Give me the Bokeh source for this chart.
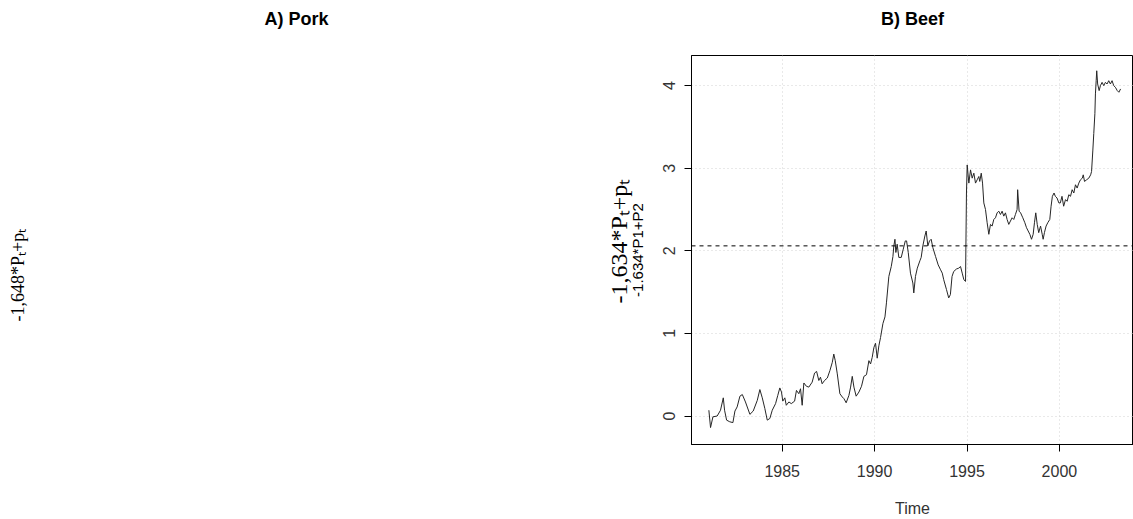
from bokeh.embed import file_html
from bokeh.layouts import row
from bokeh.models import FixedTicker, Range1d, Span, Title
from bokeh.plotting import figure
from bokeh.resources import INLINE

# Monthly beef series (decimal year, value)
time = [
    1981.03, 1981.12, 1981.25, 1981.48, 1981.66, 1981.81, 1981.88, 1981.99,
    1982.16, 1982.33, 1982.44, 1982.56, 1982.71, 1982.84, 1983.01, 1983.25,
    1983.43, 1983.65, 1983.79, 1983.92, 1984.06, 1984.19, 1984.33, 1984.46,
    1984.64, 1984.76, 1984.87, 1984.96, 1985.03, 1985.14, 1985.22, 1985.36,
    1985.49, 1985.67, 1985.77, 1985.90, 1985.99, 1986.08, 1986.17, 1986.31,
    1986.44, 1986.62, 1986.75, 1986.86, 1986.98, 1987.07, 1987.16, 1987.29,
    1987.44, 1987.58, 1987.71, 1987.79, 1987.87, 1987.98, 1988.12, 1988.25,
    1988.34, 1988.46, 1988.61, 1988.70, 1988.79, 1988.88, 1989.00, 1989.15,
    1989.29, 1989.42, 1989.56, 1989.69, 1989.78, 1989.87, 1989.96, 1990.05,
    1990.14, 1990.23, 1990.32, 1990.45, 1990.56, 1990.64, 1990.77, 1990.90,
    1990.99, 1991.04, 1991.10, 1991.15, 1991.22, 1991.31, 1991.44, 1991.55,
    1991.66, 1991.73, 1991.82, 1991.94, 1992.07, 1992.12, 1992.21, 1992.31,
    1992.45, 1992.52, 1992.61, 1992.72, 1992.79, 1992.88, 1992.97, 1993.06,
    1993.15, 1993.30, 1993.44, 1993.57, 1993.66, 1993.74, 1993.89, 1994.01,
    1994.10, 1994.19, 1994.28, 1994.43, 1994.55, 1994.65, 1994.74, 1994.83,
    1994.92, 1994.97, 1995.01, 1995.10, 1995.19, 1995.28, 1995.37, 1995.46,
    1995.55, 1995.64, 1995.69, 1995.77, 1995.84, 1995.91, 1996.00, 1996.09,
    1996.18, 1996.27, 1996.36, 1996.45, 1996.54, 1996.63, 1996.72, 1996.81,
    1996.90, 1996.99, 1997.08, 1997.17, 1997.26, 1997.35, 1997.44, 1997.53,
    1997.62, 1997.71, 1997.74, 1997.82, 1997.90, 1998.02, 1998.13, 1998.22,
    1998.31, 1998.40, 1998.49, 1998.58, 1998.65, 1998.72, 1998.80, 1998.88,
    1998.98, 1999.07, 1999.12, 1999.19, 1999.28, 1999.37, 1999.48, 1999.55,
    1999.62, 1999.71, 1999.78, 1999.87, 1999.97, 2000.05, 2000.14, 2000.23,
    2000.33, 2000.42, 2000.51, 2000.60, 2000.69, 2000.78, 2000.87, 2000.96,
    2001.05, 2001.14, 2001.24, 2001.29, 2001.36, 2001.47, 2001.59, 2001.69,
    2001.74, 2001.81, 2001.86, 2001.92, 2001.95, 2001.99, 2002.02, 2002.07,
    2002.15, 2002.22, 2002.31, 2002.40, 2002.49, 2002.58, 2002.67, 2002.76,
    2002.85, 2002.94, 2003.03, 2003.13, 2003.22, 2003.31,
]
beef = [
    0.07, -0.14, -0.01, 0.00, 0.07, 0.22, 0.07, -0.05,
    -0.07, -0.08, 0.06, 0.11, 0.24, 0.26, 0.17, 0.02,
    0.06, 0.19, 0.32, 0.22, 0.09, -0.05, -0.03, 0.07,
    0.15, 0.25, 0.34, 0.29, 0.18, 0.22, 0.13, 0.17,
    0.15, 0.18, 0.31, 0.27, 0.33, 0.13, 0.40, 0.36,
    0.35, 0.41, 0.52, 0.54, 0.43, 0.47, 0.39, 0.43,
    0.46, 0.55, 0.65, 0.75, 0.67, 0.51, 0.27, 0.23,
    0.21, 0.16, 0.25, 0.35, 0.48, 0.35, 0.24, 0.29,
    0.36, 0.48, 0.50, 0.67, 0.63, 0.71, 0.83, 0.88,
    0.70, 0.85, 0.95, 1.12, 1.20, 1.37, 1.69, 1.81,
    1.93, 2.06, 2.14, 1.98, 2.08, 1.92, 1.92, 2.02,
    2.12, 2.12, 1.98, 1.73, 1.61, 1.49, 1.69, 1.79,
    1.88, 1.92, 2.06, 2.18, 2.24, 2.06, 2.12, 2.14,
    2.04, 1.93, 1.83, 1.77, 1.73, 1.65, 1.53, 1.43,
    1.47, 1.69, 1.75, 1.78, 1.79, 1.81, 1.73, 1.65,
    1.63, 2.70, 3.04, 2.82, 2.98, 2.88, 2.94, 2.82,
    2.86, 2.90, 2.84, 2.94, 2.82, 2.58, 2.50, 2.34,
    2.20, 2.32, 2.30, 2.38, 2.40, 2.46, 2.48, 2.44,
    2.48, 2.42, 2.46, 2.38, 2.32, 2.36, 2.40, 2.38,
    2.44, 2.50, 2.74, 2.48, 2.46, 2.40, 2.34, 2.28,
    2.24, 2.20, 2.14, 2.20, 2.34, 2.46, 2.32, 2.22,
    2.30, 2.20, 2.14, 2.22, 2.30, 2.34, 2.38, 2.54,
    2.66, 2.70, 2.66, 2.64, 2.58, 2.58, 2.66, 2.54,
    2.62, 2.60, 2.68, 2.66, 2.74, 2.70, 2.80, 2.76,
    2.82, 2.86, 2.88, 2.92, 2.84, 2.86, 2.88, 2.92,
    2.96, 3.22, 3.42, 3.66, 3.90, 4.06, 4.18, 4.02,
    3.94, 4.00, 4.04, 4.00, 4.04, 4.02, 4.06, 4.02,
    4.06, 4.00, 3.98, 3.94, 3.92, 3.96,
]
mean_level = 2.06

x_ticks = [1985, 1990, 1995, 2000]
y_ticks = [0, 1, 2, 3, 4]

pork_title = "A) Pork"
beef_title = "B) Beef"
pork_label = "-1,648*Pₜ+pₜ"
beef_label = "-1,634*Pₜ+pₜ"
beef_label_raw = "-1.634*P1+P2"

H = 519
LEFT_W = 566
RIGHT_W = 1133 - LEFT_W

HAS_STANDOFF = "standoff" in Title.properties()


def make_title(text, font, size, style, align="center", offset=0,
               standoff=None):
    kw = dict(text=text, text_font=font, text_font_size=size,
              text_font_style=style, text_color="black", align=align,
              offset=offset)
    if HAS_STANDOFF and standoff is not None:
        kw["standoff"] = standoff
    return Title(**kw)


def add_top_title(fig, text):
    # a thin blank band first, so the title sits higher above the frame
    fig.add_layout(Title(text=" ", text_font_size="9px"), "above")
    fig.add_layout(make_title(text, "Liberation Sans", "18px", "bold"), "above")


# ---- left panel: pork (title and axis title only) ----
left = figure(
    width=LEFT_W, height=H, output_backend="svg", toolbar_location=None,
    title=None,
    x_range=Range1d(0, 1), y_range=Range1d(0, 1),
    min_border_left=30, min_border_right=6,
    min_border_top=55, min_border_bottom=73,
)
left.axis.visible = False
left.grid.visible = False
left.outline_line_color = None
add_top_title(left, pork_title)
# vertical axis title, starting from its lower end
left.add_layout(make_title(pork_label, "Liberation Serif", "18px", "normal",
                           align="left", offset=123, standoff=10), "left")

# ---- right panel: beef series ----
p = figure(
    width=RIGHT_W, height=H, output_backend="svg", toolbar_location=None,
    title=None,
    x_range=Range1d(1980.09, 2004.01), y_range=Range1d(-0.345, 4.365),
    min_border_left=125, min_border_right=0,
    min_border_top=55, min_border_bottom=73,
)
p.background_fill_color = "white"
p.border_fill_color = "white"
p.outline_line_color = "black"
p.outline_line_alpha = 1.0
p.outline_line_width = 1
add_top_title(p, beef_title)

for g in (p.xgrid, p.ygrid):
    g.grid_line_color = "#d3d3d3"
    g.grid_line_dash = "1 3"
    g.grid_line_width = 1

for ax in (p.xaxis, p.yaxis):
    ax.axis_line_color = "black"
    ax.major_tick_line_color = "black"
    ax.major_tick_in = 0
    ax.major_tick_out = 7
    ax.minor_tick_line_color = None
    ax.major_label_text_font = "Liberation Sans"
    ax.major_label_text_font_size = "16px"
    ax.major_label_text_color = "#333333"
    ax.axis_label_text_font = "Liberation Sans"
    ax.axis_label_text_font_style = "normal"
    ax.axis_label_text_color = "#333333"

p.xaxis.ticker = FixedTicker(ticks=x_ticks)
p.yaxis.ticker = FixedTicker(ticks=y_ticks)
p.xaxis.major_label_standoff = 13
p.yaxis.major_label_standoff = 9
p.yaxis.major_label_orientation = "vertical"

p.xaxis.axis_label = "Time"
p.xaxis.axis_label_text_font_size = "16px"
p.xaxis.axis_label_standoff = 20

p.yaxis.axis_label = beef_label_raw
p.yaxis.axis_label_text_font_size = "15px"
p.yaxis.axis_label_text_color = "black"
p.yaxis.axis_label_standoff = 15

p.add_layout(make_title(beef_label, "Liberation Serif", "24px", "normal",
                        align="left", offset=141, standoff=-12), "left")

p.line(time, beef, line_color="#262626", line_width=1)
p.add_layout(Span(location=mean_level, dimension="width", line_color="black",
                  line_dash="4 4", line_width=1))

layout = row(left, p)
open("out.html", "w").write(file_html(layout, INLINE))
